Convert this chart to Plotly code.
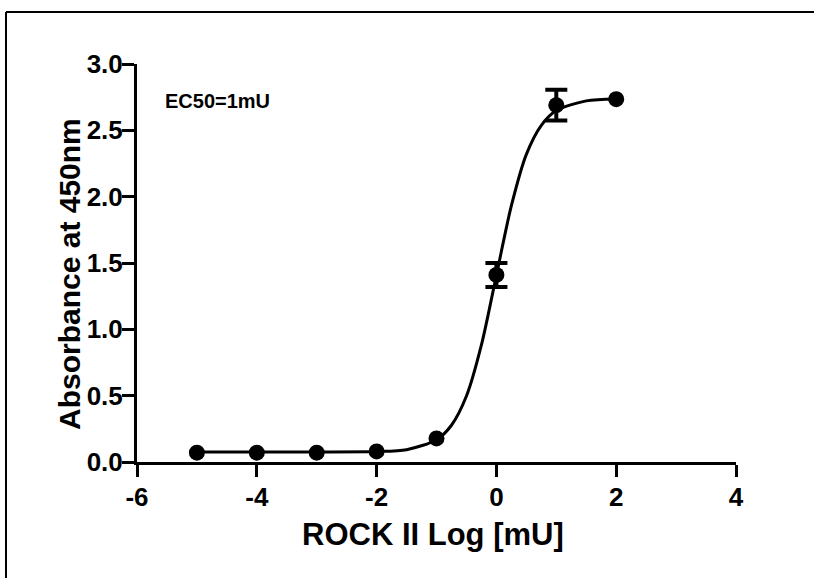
import plotly.graph_objects as go

# Measured data (log mU vs absorbance)
x_log = [-5, -4, -3, -2, -1, 0, 1, 2]
absorb = [0.07, 0.07, 0.07, 0.08, 0.178, 1.41, 2.69, 2.735]
# Points with visible SEM error bars
err_x = [0, 1]
err_y = [1.41, 2.69]
err = [0.09, 0.115]

# Fitted curve
curve_x = [-5, -4, -3, -2, -1.5, -1, -0.75, -0.5, -0.25, 0, 0.25, 0.5, 0.75, 1, 1.5, 2]
curve_y = [0.075, 0.075, 0.076, 0.079, 0.093, 0.168, 0.277, 0.497, 0.882, 1.408, 1.932, 2.319, 2.538, 2.649, 2.722, 2.737]

x_ticks = [-6, -4, -2, 0, 2, 4]
x_ticklabels = ["-6", "-4", "-2", "0", "2", "4"]
y_ticks = [0.0, 0.5, 1.0, 1.5, 2.0, 2.5, 3.0]
y_ticklabels = ["0.0", "0.5", "1.0", "1.5", "2.0", "2.5", "3.0"]

FONT = "Arial, 'Liberation Sans', sans-serif"
TICKFONT = dict(family=FONT, size=26, color="black", weight="bold")

fig = go.Figure()
fig.add_trace(go.Scatter(
    x=curve_x, y=curve_y, mode="lines",
    line=dict(color="black", width=3, shape="spline", smoothing=0.8),
    hoverinfo="skip", showlegend=False, cliponaxis=False,
))
fig.add_trace(go.Scatter(
    x=err_x, y=err_y, mode="markers",
    marker=dict(color="black", size=1, opacity=0),
    error_y=dict(type="data", array=err, visible=True, color="black", thickness=4, width=11),
    hoverinfo="skip", showlegend=False, cliponaxis=False,
))
fig.add_trace(go.Scatter(
    x=x_log, y=absorb, mode="markers",
    marker=dict(color="black", size=16),
    showlegend=False, cliponaxis=False,
))

axis_common = dict(
    showgrid=False, zeroline=False, showline=True, linecolor="black", linewidth=3,
    ticks="outside", ticklen=12, tickwidth=3, tickcolor="black",
)

fig.update_xaxes(range=[-6, 4], tickvals=x_ticks, ticktext=x_ticklabels,
                 ticklabelstandoff=-2, tickfont=TICKFONT, **axis_common)
fig.update_yaxes(range=[0, 3], tickvals=y_ticks, ticktext=y_ticklabels,
                 ticklabelstandoff=-6, tickfont=TICKFONT, **axis_common)

fig.add_annotation(text="<b>ROCK II Log [mU]</b>", xref="paper", yref="paper",
                   x=(433 - 137) / 599, y=-(534 - 462) / 398, xanchor="center", yanchor="middle",
                   showarrow=False, font=dict(family=FONT, size=31, color="black"))
fig.add_annotation(text="<b>Absorbance at 450nm</b>", xref="paper", yref="paper",
                   x=-(137 - 69) / 599, y=(462 - 274) / 398, xanchor="center", yanchor="middle",
                   textangle=-90, showarrow=False,
                   font=dict(family=FONT, size=30, color="black"))
fig.add_annotation(text="<b>EC50=1mU</b>", xref="paper", yref="paper",
                   x=(163 - 137) / 599, y=(462 - 101) / 398, xanchor="left", yanchor="middle",
                   showarrow=False, font=dict(family=FONT, size=20, color="black"))

# Outer frame: only its left and top edges fall inside the picture
fx0 = -(137 - 6) / 599
fy1 = (462 - 12) / 398
fig.add_shape(type="line", xref="paper", yref="paper", x0=fx0, x1=fx0, y0=-(578 - 462) / 398, y1=fy1,
              line=dict(color="black", width=2), layer="below")
fig.add_shape(type="line", xref="paper", yref="paper", x0=fx0, x1=1 + 78 / 599, y0=fy1, y1=fy1,
              line=dict(color="black", width=2), layer="below")

fig.update_layout(
    width=814, height=578, autosize=False,
    margin=dict(l=137, r=78, t=64, b=116),
    plot_bgcolor="white", paper_bgcolor="white",
)

fig.write_html("out.html")
